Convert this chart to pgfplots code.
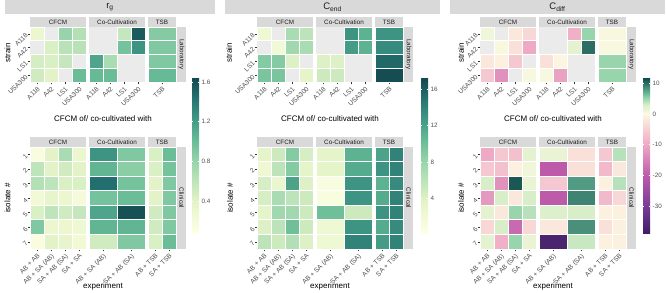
\documentclass[border=0pt]{standalone}
\usepackage{fontspec}
\setmainfont{Liberation Sans}
\usepackage{pgfplots}
\pgfplotsset{compat=1.18}
\definecolor{g85}{HTML}{D9D9D9}
\definecolor{g92}{HTML}{EBEBEB}
\definecolor{g30}{HTML}{4D4D4D}
\definecolor{g20}{HTML}{333333}
\definecolor{g10}{HTML}{1A1A1A}
\definecolor{gn0}{RGB}{255,255,229}
\definecolor{gn1}{RGB}{229,244,200}
\definecolor{gn2}{RGB}{156,214,174}
\definecolor{gn3}{RGB}{104,188,150}
\definecolor{gn4}{RGB}{62,150,132}
\definecolor{gn5}{RGB}{36,112,112}
\definecolor{gn6}{RGB}{20,75,80}
\definecolor{dv0}{RGB}{64,30,100}
\definecolor{dv1}{RGB}{120,60,150}
\definecolor{dv2}{RGB}{190,90,170}
\definecolor{dv3}{RGB}{238,170,196}
\definecolor{dv4}{RGB}{248,215,215}
\definecolor{dv5}{RGB}{253,250,225}
\definecolor{dv6}{RGB}{215,238,200}
\definecolor{dv7}{RGB}{120,200,160}
\definecolor{dv8}{RGB}{20,80,80}
\pgfdeclareplotmark{cTa}{\pgfpathrectangle{\pgfpoint{-7pt}{-6.875pt}}{\pgfpoint{14pt}{13.75pt}}\pgfusepathqfillstroke}
\pgfdeclareplotmark{cTb}{\pgfpathrectangle{\pgfpoint{-14pt}{-6.875pt}}{\pgfpoint{28pt}{13.75pt}}\pgfusepathqfillstroke}
\pgfdeclareplotmark{cBa}{\pgfpathrectangle{\pgfpoint{-7pt}{-7.2857pt}}{\pgfpoint{14pt}{14.5714pt}}\pgfusepathqfillstroke}
\pgfdeclareplotmark{cBb}{\pgfpathrectangle{\pgfpoint{-14pt}{-7.2857pt}}{\pgfpoint{28pt}{14.5714pt}}\pgfusepathqfillstroke}
\newcommand{\fs}{\fontsize{6.3}{7}\selectfont}
\newcommand{\ft}{\fontsize{6.6}{7.5}\selectfont}
\newcommand{\fa}{\fontsize{8}{9.6}\selectfont}
\pgfplotsset{
 colormap={gn}{rgb255(0pt)=(255,255,229); rgb255(20pt)=(229,244,200); rgb255(45pt)=(156,214,174); rgb255(60pt)=(104,188,150); rgb255(75pt)=(62,150,132); rgb255(88pt)=(36,112,112); rgb255(100pt)=(20,75,80)},
 colormap={dv}{rgb255(0pt)=(64,30,100); rgb255(8.6pt)=(120,60,150); rgb255(18.6pt)=(190,90,170); rgb255(28.6pt)=(238,170,196); rgb255(34.6pt)=(248,215,215); rgb255(38.6pt)=(253,250,225); rgb255(41.6pt)=(215,238,200); rgb255(44.6pt)=(120,200,160); rgb255(49.9pt)=(20,80,80)},
 hm/.style={scale only axis, anchor=north west, clip=false,
   axis background/.style={fill=g92},
   axis line style={draw=none},
   enlargelimits=false,
   tick align=outside, major tick length=2.5pt,
   tick style={g20, line width=0.4pt},
   xtick pos=left, ytick pos=left,
   ticklabel style={font=\ft, text=g30},
   xticklabel style={rotate=45, anchor=north east, inner sep=1pt},
   yticklabel style={rotate=45, anchor=east, inner sep=1pt}},
 top/.style={height=55pt, ymin=0.5, ymax=4.5, y dir=reverse, ytick={1,2,3,4}},
 bot/.style={height=102pt, ymin=0.5, ymax=7.5, y dir=reverse, ytick={1,2,3,4,5,6,7}},
 four/.style={width=56pt, xmin=0.5, xmax=4.5, xtick={1,2,3,4}},
 two/.style={width=56pt, xmin=0.5, xmax=2.5, xtick={1,2}},
 one/.style={width=28pt, xmin=0.5, xmax=1.5, xtick={1}},
 twon/.style={width=28pt, xmin=0.5, xmax=2.5, xtick={1,2}},
 noy/.style={ytick=\empty},
 labT/.style={xticklabels={A118,A42,LS1,USA300}},
 labY/.style={yticklabels={A118,A42,LS1,USA300}},
 labI/.style={yticklabels={1,2,3,4,5,6,7}},
 labC/.style={xticklabels={AB + AB,AB + SA (AB),SA + AB (SA),SA + SA}},
 labK/.style={xticklabels={AB + SA (AB),SA + AB (SA)}},
 labS/.style={xticklabels={AB + TSB,SA + TSB}},
 pA/.style={colormap name=gn, point meta min=0.077, point meta max=1.63},
 pB/.style={colormap name=gn, point meta min=0.25, point meta max=17.1},
 pC/.style={colormap name=dv, point meta min=-38.6, point meta max=11.3},
 cells/.style={scatter, only marks, scatter src=explicit, line width=0.8pt, scatter/use mapped color={draw=white, fill=mapped color}},
}
\tikzset{st/.style={font=\fs, text=g10, inner sep=0pt},
 ttl/.style={font=\fa, text=black, inner sep=0pt},
 cbl/.style={font=\fs, text=g30, inner sep=0pt, anchor=west}}
\newcommand{\deco}{%
 \fill[g85] (30pt,265pt) rectangle (86pt,275pt); \node[st] at (58pt,270pt) {CFCM};
 \fill[g85] (89pt,265pt) rectangle (145pt,275pt); \node[st] at (117pt,270pt) {Co-Cultivation};
 \fill[g85] (148pt,265pt) rectangle (176pt,275pt); \node[st] at (162pt,270pt) {TSB};
 \fill[g85] (30pt,145pt) rectangle (86pt,155pt); \node[st] at (58pt,150pt) {CFCM};
 \fill[g85] (89pt,145pt) rectangle (145pt,155pt); \node[st] at (117pt,150pt) {Co-Cultivation};
 \fill[g85] (148pt,145pt) rectangle (176pt,155pt); \node[st] at (162pt,150pt) {TSB};
 \fill[g85] (177pt,210pt) rectangle (186pt,265pt); \node[st, rotate=-90] at (181.5pt,237.5pt) {Laboratory};
 \fill[g85] (177pt,43pt) rectangle (186pt,145pt); \node[st, rotate=-90] at (181.5pt,94pt) {Clinical};
 \node[ttl] at (103pt,173pt) {CFCM of/ co-cultivated with};
 \node[ttl] at (103pt,5.5pt) {experiment};
}
\newcommand{\gnbar}{%
 \shade[bottom color=gn0, top color=gn1] (0pt,59pt) rectangle (7pt,90.1pt);
 \shade[bottom color=gn1, top color=gn2] (0pt,89.8pt) rectangle (7pt,128.6pt);
 \shade[bottom color=gn2, top color=gn3] (0pt,128.3pt) rectangle (7pt,151.7pt);
 \shade[bottom color=gn3, top color=gn4] (0pt,151.4pt) rectangle (7pt,174.8pt);
 \shade[bottom color=gn4, top color=gn5] (0pt,174.5pt) rectangle (7pt,194.8pt);
 \shade[bottom color=gn5, top color=gn6] (0pt,194.5pt) rectangle (7pt,213pt);
}
\newcommand{\dvbar}{%
 \shade[bottom color=dv0, top color=dv1] (0pt,59pt) rectangle (7pt,85.8pt);
 \shade[bottom color=dv1, top color=dv2] (0pt,85.5pt) rectangle (7pt,116.7pt);
 \shade[bottom color=dv2, top color=dv3] (0pt,116.4pt) rectangle (7pt,147.6pt);
 \shade[bottom color=dv3, top color=dv4] (0pt,147.3pt) rectangle (7pt,166.1pt);
 \shade[bottom color=dv4, top color=dv5] (0pt,165.8pt) rectangle (7pt,178.4pt);
 \shade[bottom color=dv5, top color=dv6] (0pt,178.1pt) rectangle (7pt,187.7pt);
 \shade[bottom color=dv6, top color=dv7] (0pt,187.4pt) rectangle (7pt,196.9pt);
 \shade[bottom color=dv7, top color=dv8] (0pt,196.6pt) rectangle (7pt,213pt);
}
\newcommand{\cbt}[2]{\draw[white, line width=0.5pt] (0pt,#1pt) -- (1.4pt,#1pt) (5.6pt,#1pt) -- (7pt,#1pt); \node[cbl] at (9.5pt,#1pt) {#2};}
\begin{document}
\begin{tikzpicture}
\useasboundingbox (0pt,0pt) rectangle (666pt,292pt);
% ---------- decorations ----------
\begin{scope}\deco\end{scope}
\begin{scope}[xshift=227pt]\deco\end{scope}
\begin{scope}[xshift=450pt]\deco\end{scope}
\fill[g85] (5pt,278pt) rectangle (215pt,291.5pt); \node[font=\fontsize{9.5}{10}\selectfont, text=g10] at (110pt,284.5pt) {r\textsubscript{g}};
\fill[g85] (225pt,278pt) rectangle (440pt,291.5pt); \node[font=\fontsize{9.5}{10}\selectfont, text=g10] at (332.5pt,284.5pt) {C\textsubscript{end}};
\fill[g85] (450pt,278pt) rectangle (665pt,291.5pt); \node[font=\fontsize{9.5}{10}\selectfont, text=g10] at (557.5pt,284.5pt) {C\textsubscript{diff}};
\node[ttl, rotate=90] at (7.5pt,239pt) {strain};
\node[ttl, rotate=90] at (229pt,239pt) {strain};
\node[ttl, rotate=90] at (461pt,239pt) {strain};
\node[ttl, rotate=90] at (7.5pt,94pt) {isolate \#};
\node[ttl, rotate=90] at (230pt,94pt) {isolate \#};
\node[ttl, rotate=90] at (461pt,94pt) {isolate \#};
% ---------- colour bars ----------
\begin{scope}[xshift=192pt]\gnbar
 \cbt{91.03}{0.4}\cbt{130.69}{0.8}\cbt{170.36}{1.2}\cbt{210.02}{1.6}\end{scope}
\begin{scope}[xshift=421pt]\gnbar
 \cbt{93.27}{4}\cbt{129.83}{8}\cbt{166.39}{12}\cbt{202.95}{16}\end{scope}
\begin{scope}[xshift=643pt]\dvbar
 \cbt{85.54}{-30}\cbt{116.40}{-20}\cbt{147.26}{-10}\cbt{178.13}{0}\cbt{208.99}{10}\end{scope}

% ================= PANEL 1 : r_g =================
\begin{axis}[hm, top, four, pA, labT, labY, at={(30pt,265pt)}]
\addplot[cells, mark=cTa] table[meta=v]{
x y v
1 1 0.30
3 1 0.80
4 1 0.65
2 2 0.45
3 2 0.62
4 2 0.62
1 3 0.48
2 3 0.45
3 3 0.55
1 4 0.50
2 4 0.40
4 4 1.00
};
\end{axis}
\begin{axis}[hm, top, four, pA, labT, noy, at={(89pt,265pt)}]
\addplot[cells, mark=cTa] table[meta=v]{
x y v
3 1 0.55
4 1 1.55
3 2 0.95
4 2 1.25
1 3 1.15
2 3 0.70
1 4 1.02
2 4 1.00
};
\end{axis}
\begin{axis}[hm, top, one, pA, xticklabels={TSB}, noy, at={(148pt,265pt)}]
\addplot[cells, mark=cTb] table[meta=v]{
x y v
1 1 0.88
1 2 0.90
1 3 0.90
1 4 1.02
};
\end{axis}
\begin{axis}[hm, bot, four, pA, labC, labI, at={(30pt,145pt)}]
\addplot[cells, mark=cBa] table[meta=v]{
x y v
1 1 0.15
2 1 0.40
3 1 0.70
4 1 0.30
1 2 0.60
2 2 0.40
3 2 0.50
4 2 0.40
1 3 0.65
2 3 0.60
3 3 0.45
4 3 0.45
1 4 0.25
2 4 0.35
3 4 0.30
4 4 0.20
1 5 0.45
2 5 0.60
3 5 0.50
4 5 0.55
1 6 0.90
2 6 0.30
3 6 0.30
4 6 0.28
1 7 0.15
2 7 0.40
3 7 0.35
4 7 0.25
};
\end{axis}
\begin{axis}[hm, bot, two, pA, labK, noy, at={(89pt,145pt)}]
\addplot[cells, mark=cBb] table[meta=v]{
x y v
1 1 1.25
2 1 0.90
1 2 1.05
2 2 0.85
1 3 1.45
2 3 0.95
1 4 0.95
2 4 1.00
1 5 1.15
2 5 1.60
1 6 1.05
2 6 1.05
1 7 0.50
2 7 0.90
};
\end{axis}
\begin{axis}[hm, bot, twon, pA, labS, noy, at={(148pt,145pt)}]
\addplot[cells, mark=cBa] table[meta=v]{
x y v
1 1 0.45
2 1 1.00
1 2 0.45
2 2 0.95
1 3 0.40
2 3 0.90
1 4 0.40
2 4 0.90
1 5 0.50
2 5 0.90
1 6 0.50
2 6 0.90
1 7 0.45
2 7 1.00
};
\end{axis}

% ================= PANEL 2 : C_end =================
\begin{axis}[hm, top, four, pB, labT, labY, at={(257pt,265pt)}]
\addplot[cells, mark=cTa] table[meta=v]{
x y v
1 1 2.5
3 1 7.0
4 1 6.0
2 2 2.0
3 2 7.5
4 2 7.0
1 3 9.0
2 3 9.0
3 3 4.0
1 4 9.5
2 4 9.5
4 4 3.5
};
\end{axis}
\begin{axis}[hm, top, four, pB, labT, noy, at={(316pt,265pt)}]
\addplot[cells, mark=cTa] table[meta=v]{
x y v
3 1 13.0
4 1 11.0
3 2 12.5
4 2 11.0
1 3 4.0
2 3 4.0
1 4 5.0
2 4 5.0
};
\end{axis}
\begin{axis}[hm, top, one, pB, xticklabels={TSB}, noy, at={(375pt,265pt)}]
\addplot[cells, mark=cTb] table[meta=v]{
x y v
1 1 13.0
1 2 13.5
1 3 15.5
1 4 17.0
};
\end{axis}
\begin{axis}[hm, bot, four, pB, labC, labI, at={(257pt,145pt)}]
\addplot[cells, mark=cBa] table[meta=v]{
x y v
1 1 3.5
2 1 5.0
3 1 9.0
4 1 4.5
1 2 2.5
2 2 6.0
3 2 9.0
4 2 3.5
1 3 4.5
2 3 3.0
3 3 12.0
4 3 4.0
1 4 4.5
2 4 7.0
3 4 6.0
4 4 5.0
1 5 3.5
2 5 7.5
3 5 7.5
4 5 5.0
1 6 4.0
2 6 6.0
3 6 10.0
4 6 5.0
1 7 6.0
2 7 5.0
3 7 6.5
4 7 4.0
};
\end{axis}
\begin{axis}[hm, bot, two, pB, labK, noy, at={(316pt,145pt)}]
\addplot[cells, mark=cBb] table[meta=v]{
x y v
1 1 3.5
2 1 11.0
1 2 3.5
2 2 11.5
1 3 1.0
2 3 13.0
1 4 1.0
2 4 13.0
1 5 10.0
2 5 5.0
1 6 2.5
2 6 13.0
1 7 2.5
2 7 14.0
};
\end{axis}
\begin{axis}[hm, bot, twon, pB, labS, noy, at={(375pt,145pt)}]
\addplot[cells, mark=cBa] table[meta=v]{
x y v
1 1 12.0
2 1 14.0
1 2 13.0
2 2 14.0
1 3 11.0
2 3 13.5
1 4 11.5
2 4 14.0
1 5 13.0
2 5 14.0
1 6 11.5
2 6 13.5
1 7 12.5
2 7 14.0
};
\end{axis}

% ================= PANEL 3 : C_diff =================
\begin{axis}[hm, top, four, pC, labT, labY, at={(480pt,265pt)}]
\addplot[cells, mark=cTa] table[meta=v]{
x y v
1 1 1.0
3 1 -2.0
4 1 -4.0
2 2 0.5
3 2 -3.0
4 2 -10.0
1 3 -2.0
2 3 -1.0
3 3 -6.0
1 4 -6.0
2 4 -13.0
4 4 0.5
};
\end{axis}
\begin{axis}[hm, top, four, pC, labT, noy, at={(539pt,265pt)}]
\addplot[cells, mark=cTa] table[meta=v]{
x y v
3 1 -9.0
4 1 5.0
3 2 2.0
4 2 10.0
1 3 -3.0
2 3 -0.5
1 4 0.5
2 4 -11.0
};
\end{axis}
\begin{axis}[hm, top, one, pC, xticklabels={TSB}, noy, at={(598pt,265pt)}]
\addplot[cells, mark=cTb] table[meta=v]{
x y v
1 1 0.5
1 2 0.5
1 3 5.0
1 4 5.0
};
\end{axis}
\begin{axis}[hm, bot, four, pC, labC, labI, at={(480pt,145pt)}]
\addplot[cells, mark=cBa] table[meta=v]{
x y v
1 1 -10.0
2 1 -6.0
3 1 -7.0
4 1 2.0
1 2 -6.0
2 2 -7.0
3 2 -1.0
4 2 1.0
1 3 3.0
2 3 -13.0
3 3 11.0
4 3 1.5
1 4 -12.0
2 4 3.0
3 4 -2.0
4 4 3.0
1 5 2.0
2 5 -2.0
3 5 5.0
4 5 4.0
1 6 -4.0
2 6 3.0
3 6 -18.0
4 6 -4.0
1 7 2.0
2 7 -9.0
3 7 5.0
4 7 1.5
};
\end{axis}
\begin{axis}[hm, bot, two, pC, labK, noy, at={(539pt,145pt)}]
\addplot[cells, mark=cBb] table[meta=v]{
x y v
1 1 1.5
2 1 -3.0
1 2 -20.0
2 2 -3.0
1 3 -6.0
2 3 8.0
1 4 -20.0
2 4 9.0
1 5 2.5
2 5 3.0
1 6 -2.0
2 6 8.5
1 7 -37.0
2 7 3.5
};
\end{axis}
\begin{axis}[hm, bot, twon, pC, labS, noy, at={(598pt,145pt)}]
\addplot[cells, mark=cBa] table[meta=v]{
x y v
1 1 -6.0
2 1 4.0
1 2 -8.0
2 2 -2.0
1 3 -1.0
2 3 4.0
1 4 -8.0
2 4 -4.0
1 5 -1.0
2 5 -1.0
1 6 -3.0
2 6 -1.0
1 7 -1.0
2 7 -1.0
};
\end{axis}
\end{tikzpicture}
\end{document}
